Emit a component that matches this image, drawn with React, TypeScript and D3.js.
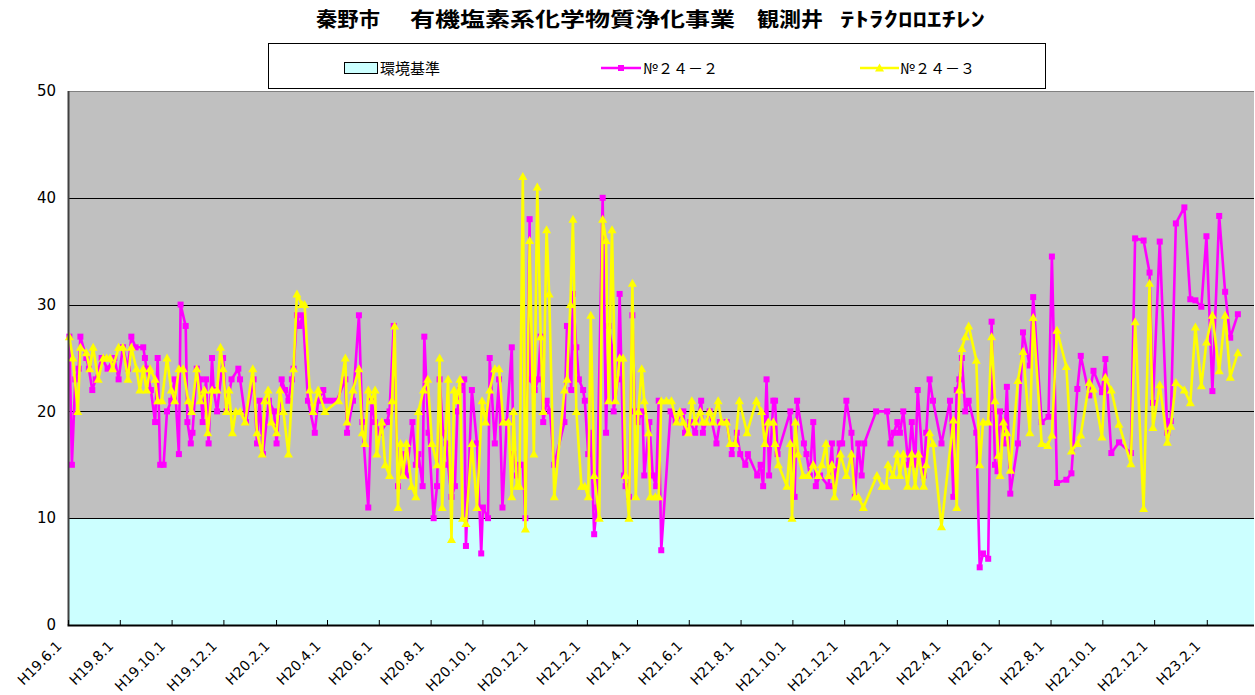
import React from "react";
import * as d3 from "d3";

const titleParts = ["秦野市", "有機塩素系化学物質浄化事業", "観測井", "ﾃﾄﾗｸﾛﾛｴﾁﾚﾝ"];
const legendLabels = ["環境基準", "№２４－２", "№２４－３"];
const yTicks = [0, 10, 20, 30, 40, 50];
const standardLimit = 10;
const axisStart = "2007-06-01";
const axisEnd = "2011-03-28";
const xTickLabels = [
  "H19.6.1", "H19.8.1", "H19.10.1", "H19.12.1", "H20.2.1", "H20.4.1", "H20.6.1", "H20.8.1",
  "H20.10.1", "H20.12.1", "H21.2.1", "H21.4.1", "H21.6.1", "H21.8.1", "H21.10.1", "H21.12.1",
  "H22.2.1", "H22.4.1", "H22.6.1", "H22.8.1", "H22.10.1", "H22.12.1", "H23.2.1",
];

const series242: [string, number][] = [
  ["2007-06-02",27],["2007-06-05",15],["2007-06-09",23],["2007-06-13",24],["2007-06-15",27],["2007-06-22",25],["2007-06-25",24],["2007-06-29",22],["2007-07-03",23],["2007-07-10",25],["2007-07-17",24],["2007-07-25",25],["2007-07-30",23],["2007-08-04",26],["2007-08-10",24],["2007-08-14",27],["2007-08-19",26],["2007-08-28",26],["2007-08-30",25],["2007-09-01",24],["2007-09-06",22],["2007-09-11",19],["2007-09-14",25],["2007-09-17",15],["2007-09-21",15],["2007-09-25",20],["2007-09-30",21],["2007-10-04",23],["2007-10-09",16],["2007-10-11",30],["2007-10-17",28],["2007-10-19",19],["2007-10-23",17],["2007-10-25",18],["2007-10-30",24],["2007-11-03",23],["2007-11-06",19],["2007-11-10",23],["2007-11-13",17],["2007-11-17",25],["2007-11-19",22],["2007-11-23",20],["2007-11-30",25],["2007-12-04",20],["2007-12-10",23],["2007-12-18",24],["2007-12-20",23],["2007-12-27",19],
  ["2008-01-05",23],["2008-01-09",17],["2008-01-12",21],["2008-01-16",16],["2008-01-23",21],["2008-01-29",20],["2008-02-01",17],["2008-02-07",23],["2008-02-11",22],["2008-02-15",21],["2008-02-19",23],["2008-02-21",24],["2008-02-25",29],["2008-02-28",28],["2008-03-03",29],["2008-03-09",21],["2008-03-17",18],["2008-03-21",21],["2008-03-27",22],["2008-03-29",21],["2008-04-05",21],["2008-04-12",21],["2008-04-22",23],["2008-04-24",18],["2008-05-01",21],["2008-05-08",29],["2008-05-12",19],["2008-05-19",11],["2008-05-23",21],["2008-05-27",19],["2008-06-02",18],["2008-06-10",19],["2008-06-13",20],["2008-06-18",28],["2008-06-23",13],["2008-06-29",16],["2008-07-03",14],["2008-07-10",19],["2008-07-14",15],["2008-07-17",16],["2008-07-22",13],["2008-07-24",27],["2008-07-29",18],["2008-08-04",10],["2008-08-08",13],["2008-08-11",23],["2008-08-15",18],["2008-08-19",17],["2008-08-21",15],["2008-08-25",12],["2008-08-29",13],["2008-09-01",20],["2008-09-04",22],["2008-09-09",23],["2008-09-11",7.4],["2008-09-18",22],["2008-09-24",17],["2008-09-29",6.7],["2008-10-01",11],["2008-10-07",10],["2008-10-09",25],["2008-10-15",17],["2008-10-20",23],["2008-10-24",11],["2008-10-29",19],["2008-11-04",26],["2008-11-06",16],["2008-11-10",14],["2008-11-13",15],["2008-11-17",15],["2008-11-20",10],["2008-11-25",38],["2008-11-26",23],["2008-12-01",22],["2008-12-05",23],["2008-12-08",27],["2008-12-11",19],["2008-12-15",21],["2008-12-19",20],["2008-12-24",15],
  ["2009-01-05",19],["2009-01-08",28],["2009-01-13",22],["2009-01-15",31],["2009-01-19",26],["2009-01-22",23],["2009-01-27",22],["2009-01-29",21],["2009-02-02",16],["2009-02-05",18],["2009-02-09",8.5],["2009-02-12",11],["2009-02-19",40],["2009-02-23",18],["2009-02-26",28],["2009-03-02",26],["2009-03-04",20],["2009-03-09",23],["2009-03-11",31],["2009-03-16",14],["2009-03-18",13],["2009-03-22",12],["2009-03-26",29],["2009-03-29",20],["2009-04-01",19],["2009-04-07",20],["2009-04-09",14],["2009-04-15",19],["2009-04-19",14],["2009-04-23",13],["2009-04-26",21],["2009-04-29",7],["2009-05-10",20],["2009-05-16",19],["2009-05-25",20],["2009-05-27",18],["2009-06-02",19],["2009-06-08",18],["2009-06-15",21],["2009-06-17",18],["2009-06-25",20],["2009-07-03",17],["2009-07-07",19],["2009-07-15",19],["2009-07-21",16],["2009-07-27",18],["2009-07-31",16],["2009-08-06",15],["2009-08-09",16],["2009-08-20",14],["2009-08-24",15],["2009-08-27",13],["2009-08-31",23],["2009-09-03",14],["2009-09-08",21],["2009-09-10",21],["2009-09-13",16],["2009-09-28",20],["2009-10-03",12],["2009-10-06",21],["2009-10-14",17],["2009-10-17",16],["2009-10-21",14],["2009-10-25",19],["2009-10-28",13],["2009-11-02",14],["2009-11-12",13],["2009-11-16",17],["2009-11-18",13],["2009-11-25",17],["2009-11-28",17],["2009-12-03",21],["2009-12-09",18],["2009-12-13",12],["2009-12-17",17],["2009-12-21",14],["2009-12-24",17],
  ["2010-01-07",20],["2010-01-20",20],["2010-01-24",17],["2010-01-28",18],["2010-02-01",19],["2010-02-04",18],["2010-02-08",20],["2010-02-14",15],["2010-02-18",19],["2010-02-22",15],["2010-02-25",22],["2010-03-04",14],["2010-03-07",18],["2010-03-11",23],["2010-03-15",21],["2010-03-25",17],["2010-04-04",21],["2010-04-08",12],["2010-04-12",22],["2010-04-15",23],["2010-04-18",25],["2010-04-22",20],["2010-04-26",21],["2010-05-05",18],["2010-05-09",5.4],["2010-05-13",6.7],["2010-05-19",6.2],["2010-05-23",28.4],["2010-05-27",15],["2010-05-30",14.4],["2010-06-02",20],["2010-06-07",17],["2010-06-10",22.3],["2010-06-14",12.3],["2010-06-23",17],["2010-06-29",27.4],["2010-07-07",24.3],["2010-07-11",30.7],["2010-07-21",19],["2010-07-29",19.5],["2010-08-02",34.5],["2010-08-08",13.3],["2010-08-19",13.6],["2010-08-25",14.2],["2010-09-01",22.1],["2010-09-05",25.2],["2010-09-15",21.5],["2010-09-20",23.8],["2010-09-30",21.8],["2010-10-04",24.9],["2010-10-11",16.1],["2010-10-20",17.1],["2010-11-03",16.1],["2010-11-08",36.2],["2010-11-18",36],["2010-11-25",33],["2010-11-29",20.8],["2010-12-07",35.9],["2010-12-16",18],["2010-12-20",19.1],["2010-12-26",37.6],
  ["2011-01-05",39.1],["2011-01-12",30.5],["2011-01-18",30.4],["2011-01-25",29.8],["2011-01-31",36.4],["2011-02-07",21.9],["2011-02-15",38.3],["2011-02-22",31.2],["2011-02-28",26.9],["2011-03-09",29.1],
];

const series243: [string, number][] = [
  ["2007-06-02",27],["2007-06-06",25],["2007-06-12",20],["2007-06-15",26],["2007-06-22",25.5],["2007-06-26",24],["2007-06-30",26],["2007-07-06",23],["2007-07-12",25],["2007-07-16",25],["2007-07-20",25],["2007-07-23",24],["2007-07-30",26],["2007-08-04",26],["2007-08-10",23],["2007-08-14",26],["2007-08-20",24],["2007-08-24",22],["2007-08-28",24],["2007-09-01",22],["2007-09-05",24],["2007-09-11",23],["2007-09-14",21],["2007-09-19",21],["2007-09-25",25],["2007-09-30",22],["2007-10-04",21],["2007-10-09",24],["2007-10-14",24],["2007-10-20",21],["2007-10-24",20],["2007-10-30",24],["2007-11-03",21],["2007-11-08",22],["2007-11-12",18],["2007-11-17",22],["2007-11-23",22],["2007-11-27",26],["2007-11-30",24],["2007-12-04",20],["2007-12-07",22],["2007-12-11",18],["2007-12-15",20],["2007-12-20",20],["2007-12-26",19],
  ["2008-01-04",24],["2008-01-09",18],["2008-01-15",16],["2008-01-18",21],["2008-01-22",22],["2008-01-26",19],["2008-02-01",18],["2008-02-05",22],["2008-02-09",20],["2008-02-15",16],["2008-02-21",24],["2008-02-25",31],["2008-03-02",30],["2008-03-05",30],["2008-03-11",22],["2008-03-15",20],["2008-03-21",22],["2008-03-29",20],["2008-04-14",21],["2008-04-22",25],["2008-04-24",19],["2008-05-01",22],["2008-05-08",24],["2008-05-12",18],["2008-05-15",17],["2008-05-19",22],["2008-05-23",21],["2008-05-27",22],["2008-05-29",16],["2008-06-04",19],["2008-06-08",15],["2008-06-13",14],["2008-06-16",21],["2008-06-19",28],["2008-06-23",11],["2008-06-26",17],["2008-06-29",14],["2008-07-03",17],["2008-07-09",13],["2008-07-14",12],["2008-07-17",20],["2008-07-23",22],["2008-07-28",23],["2008-08-02",17],["2008-08-08",15],["2008-08-11",25],["2008-08-14",11],["2008-08-21",23],["2008-08-25",8],["2008-08-28",22],["2008-08-31",21],["2008-09-04",23],["2008-09-07",10],["2008-09-11",9.5],["2008-09-18",17],["2008-09-24",11],["2008-09-30",21],["2008-10-04",19],["2008-10-09",22],["2008-10-15",24],["2008-10-20",24],["2008-10-25",19],["2008-10-31",19],["2008-11-04",12],["2008-11-06",20],["2008-11-10",13],["2008-11-13",13],["2008-11-17",42],["2008-11-20",9],["2008-11-25",36],["2008-11-30",16],["2008-12-04",41],["2008-12-08",27],["2008-12-11",20],["2008-12-15",37],["2008-12-18",31],["2008-12-24",12],
  ["2009-01-05",22],["2009-01-08",23],["2009-01-12",30],["2009-01-15",38],["2009-01-19",20],["2009-01-25",13],["2009-01-29",13],["2009-02-02",12],["2009-02-05",29],["2009-02-09",14],["2009-02-15",10],["2009-02-19",38],["2009-02-23",36],["2009-02-26",21],["2009-03-02",37],["2009-03-06",21],["2009-03-11",25],["2009-03-15",25],["2009-03-18",14],["2009-03-22",10],["2009-03-26",32],["2009-03-30",12],["2009-04-02",20],["2009-04-06",24],["2009-04-09",21],["2009-04-14",18],["2009-04-16",12],["2009-04-22",12],["2009-04-26",12],["2009-04-29",21],["2009-05-05",21],["2009-05-11",21],["2009-05-17",19],["2009-05-21",20],["2009-05-25",19],["2009-05-31",18],["2009-06-04",21],["2009-06-08",19],["2009-06-14",20],["2009-06-17",19],["2009-06-21",19],["2009-06-25",20],["2009-06-29",19],["2009-07-05",21],["2009-07-09",19],["2009-07-15",19],["2009-07-19",17],["2009-07-25",17],["2009-07-30",21],["2009-08-08",18],["2009-08-19",21],["2009-08-25",20],["2009-08-29",17],["2009-09-02",19],["2009-09-08",19],["2009-09-10",17],["2009-09-14",15],["2009-09-24",13],["2009-09-28",17],["2009-09-30",10],["2009-10-04",19],["2009-10-07",16],["2009-10-13",14],["2009-10-19",14],["2009-10-25",15],["2009-10-31",14],["2009-11-04",15],["2009-11-09",17],["2009-11-12",14],["2009-11-16",15],["2009-11-19",12],["2009-11-26",16],["2009-12-03",14],["2009-12-09",16],["2009-12-13",12],["2009-12-17",12],["2009-12-23",11],
  ["2010-01-08",14],["2010-01-14",13],["2010-01-19",13],["2010-01-21",15],["2010-01-27",14],["2010-02-01",16],["2010-02-04",14],["2010-02-08",16],["2010-02-13",13],["2010-02-18",16],["2010-02-22",13],["2010-02-26",16],["2010-03-04",13],["2010-03-07",15],["2010-03-11",18],["2010-03-15",17],["2010-03-25",9.2],["2010-04-08",19.2],["2010-04-12",11],["2010-04-15",22],["2010-04-18",25.9],["2010-04-22",27],["2010-04-26",28],["2010-05-05",24.8],["2010-05-09",15],["2010-05-13",19],["2010-05-19",19],["2010-05-23",27],["2010-05-27",21],["2010-05-31",15.9],["2010-06-02",14],["2010-06-06",19],["2010-06-10",18],["2010-06-14",14.5],["2010-06-23",22.9],["2010-06-29",25.6],["2010-07-07",18],["2010-07-11",28.8],["2010-07-21",17],["2010-07-28",16.8],["2010-08-02",17.8],["2010-08-08",27.6],["2010-08-19",24.2],["2010-08-25",16.3],["2010-09-01",17],["2010-09-05",17.8],["2010-09-15",22.7],["2010-09-20",22.1],["2010-09-30",17.6],["2010-10-04",23.2],["2010-10-11",22],["2010-10-20",18.8],["2010-11-03",15.1],["2010-11-08",28.4],["2010-11-18",10.9],["2010-11-25",32],["2010-11-29",18.5],["2010-12-07",22.5],["2010-12-16",17.1],["2010-12-20",18.6],["2010-12-26",22.7],
  ["2011-01-05",22],["2011-01-12",20.8],["2011-01-18",27.9],["2011-01-25",22.4],["2011-01-31",26.5],["2011-02-07",29],["2011-02-15",23.8],["2011-02-22",29],["2011-02-28",23.2],["2011-03-09",25.5],
];

const MAGENTA = "#FF00FF";
const YELLOW = "#FFFF00";
const CYAN = "#CCFFFF";
const PLOT_BG = "#C0C0C0";
const FONT = "'DejaVu Sans', 'Noto Sans CJK JP', sans-serif";
const JP_FONT = "'Noto Sans CJK JP', sans-serif";

const parse = d3.timeParse("%Y-%m-%d");

function tickDate(label: string): Date {
  const [y, m, d] = label.slice(1).split(".").map(Number);
  return new Date(1988 + y, m - 1, d);
}

const TRI = "M0,-4.5L4.5,3.5L-4.5,3.5Z";

export default function App() {
  const W = 1255, H = 695;
  const left = 68.5, right = 1254, top = 91, bottom = 625;
  const x = d3.scaleTime().domain([parse(axisStart)!, parse(axisEnd)!]).range([left, right]);
  const y = d3.scaleLinear().domain([0, 50]).range([bottom, top]);

  const d242 = series242.map(([d, v]) => [parse(d)!, v] as [Date, number]);
  const d243 = series243.map(([d, v]) => [parse(d)!, v] as [Date, number]);
  const line = d3.line<[Date, number]>().x((d) => x(d[0])).y((d) => y(d[1]));

  const ticks = xTickLabels.map((l) => ({ label: l, date: tickDate(l) }));

  const titleX = [316, 410, 757, 840];
  const titleLen = [64, 325, 66, 145];

  return (
    <svg width={W} height={H} style={{ display: "block", position: "absolute", left: 0, top: 0, background: "#fff" }}>
      <rect x={0} y={0} width={W} height={H} fill="#fff" />
      {/* title */}
      <text y={27} fontFamily={JP_FONT} fontWeight="bold" fontSize={20} fill="#000">
        {titleParts.map((t, i) => (
          <tspan key={i} x={titleX[i]} textLength={titleLen[i]} lengthAdjust="spacingAndGlyphs">{t}</tspan>
        ))}
      </text>

      {/* plot background */}
      <rect x={left} y={top} width={right - left} height={bottom - top} fill={PLOT_BG} />
      <rect x={left} y={y(standardLimit)} width={right - left} height={bottom - y(standardLimit)} fill={CYAN} />
      {yTicks.filter((t) => t > 0).map((t) => (
        <line key={t} x1={left} x2={right} y1={Math.round(y(t)) + 0.5} y2={Math.round(y(t)) + 0.5} stroke={t === 50 ? "#808080" : "#000"} strokeWidth={1} />
      ))}

      {/* series */}
      <g>
        <path d={line(d242) || ""} fill="none" stroke={MAGENTA} strokeWidth={2.6} strokeLinejoin="round" />
        {d242.map((d, i) => (
          <rect key={i} x={x(d[0]) - 3} y={y(d[1]) - 3} width={6} height={6} fill={MAGENTA} />
        ))}
      </g>
      <g>
        <path d={line(d243) || ""} fill="none" stroke={YELLOW} strokeWidth={2.6} strokeLinejoin="round" />
        {d243.map((d, i) => (
          <path key={i} d={TRI} transform={`translate(${x(d[0])},${y(d[1])})`} fill={YELLOW} />
        ))}
      </g>

      {/* axes */}
      <line x1={left} x2={left} y1={top} y2={bottom} stroke="#404040" strokeWidth={2} />
      <line x1={left - 1} x2={right} y1={bottom + 0.5} y2={bottom + 0.5} stroke="#000" strokeWidth={2} />
      {ticks.map((t) => (
        <line key={t.label} x1={x(t.date)} x2={x(t.date)} y1={bottom} y2={bottom - 5} stroke="#000" strokeWidth={1} />
      ))}
      {yTicks.map((t) => (
        <text key={t} x={56} y={y(t)} dy="0.35em" textAnchor="end" fontFamily={FONT} fontSize={15} fill="#000">{t}</text>
      ))}
      {ticks.map((t) => (
        <text key={t.label} transform={`translate(${x(t.date) - 6},${bottom + 22}) rotate(-45)`} textAnchor="end" fontFamily={FONT} fontSize={14} fill="#000">{t.label}</text>
      ))}

      {/* legend */}
      <rect x={268.5} y={43.5} width={777} height={45} fill="#fff" stroke="#000" strokeWidth={1} />
      <rect x={344.5} y={62.5} width={33} height={11} fill={CYAN} stroke="#000" strokeWidth={1} />
      <text x={380} y={74} fontFamily={JP_FONT} fontSize={15} fill="#000">{legendLabels[0]}</text>
      <line x1={601} x2={641} y1={68} y2={68} stroke={MAGENTA} strokeWidth={2.6} />
      <rect x={618} y={65} width={6} height={6} fill={MAGENTA} />
      <text x={643} y={74} fontFamily={JP_FONT} fontSize={15} fill="#000">{legendLabels[1]}</text>
      <line x1={860} x2={899} y1={68} y2={68} stroke={YELLOW} strokeWidth={2.6} />
      <path d={TRI} transform="translate(879.5,68)" fill={YELLOW} />
      <text x={900} y={74} fontFamily={JP_FONT} fontSize={15} fill="#000">{legendLabels[2]}</text>
    </svg>
  );
}
